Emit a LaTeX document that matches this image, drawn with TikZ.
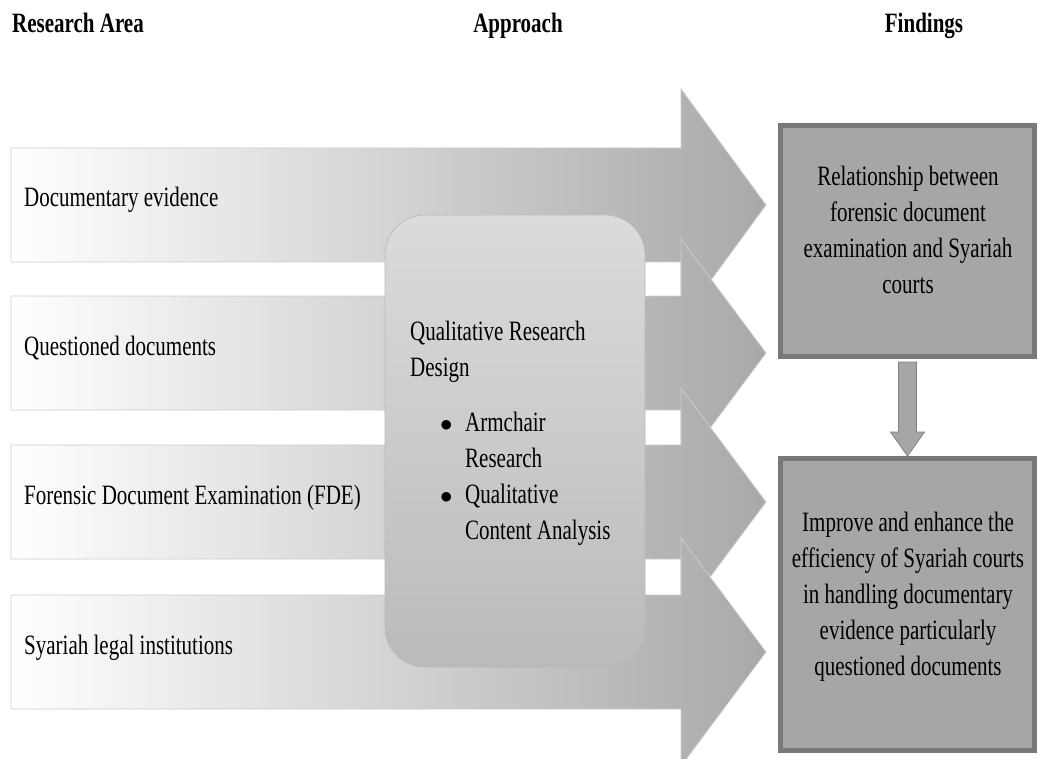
\documentclass[tikz,border=0pt]{standalone}
\usepackage{fontspec}
\setmainfont{Liberation Serif}[FakeStretch=0.75]
\usepackage{tikz}
\usetikzlibrary{calc,positioning}
\begin{document}
\begin{tikzpicture}[x=1pt,y=-1pt,every node/.style={font=\fontsize{28}{36}\selectfont,inner sep=0pt},
  head/.style={font=\fontsize{28}{36}\selectfont\bfseries,anchor=base},
  flow/.style={draw=gray!40,line width=0.8pt,left color=white,right color=gray!68},
  approach/.style={draw=gray!55,line width=0.6pt,rounded corners=40pt,top color=gray!28,bottom color=gray!54,minimum width=260pt,minimum height=452pt},
  finding/.style={draw=gray!105,line width=5pt,fill=gray!70,minimum width=254pt},
  downarr/.style={draw=gray,line width=0.8pt,fill=gray!70}]
\useasboundingbox (0,0) rectangle (1038,759);
\node[head,anchor=base west] (harea) at (12,33) {Research Area};
\node[head] (happr) at (518,33) {Approach};
\node[head] (hfind) at (924,33) {Findings};
\path[flow] (11,148) -- (681,148) -- (681,89) -- (766,205) -- (681,321) -- (681,262) -- (11,262) -- cycle;
\path[flow] (11,296) -- (681,296) -- (681,239) -- (766,353) -- (681,467) -- (681,410) -- (11,410) -- cycle;
\path[flow] (11,445) -- (681,445) -- (681,388) -- (766,502) -- (681,616) -- (681,559) -- (11,559) -- cycle;
\path[flow] (11,595) -- (681,595) -- (681,538) -- (766,652) -- (681,766) -- (681,709) -- (11,709) -- cycle;
\node[anchor=base west] (docev) at (24,207) {Documentary evidence};
\node[anchor=base west] (qdocs) at (24,355) {Questioned documents};
\node[anchor=base west] (fde) at (24,504) {Forensic Document Examination (FDE)};
\node[anchor=base west] (syariah) at (24,654) {Syariah legal institutions};
\node[approach] (appr) at (515,441) {};
\node[anchor=north west,align=left] (apprtext) at (410,321) {Qualitative Research\\
Design\\[19pt]
\hspace*{30pt}\makebox[25pt][l]{$\bullet$}Armchair\\
\hspace*{55pt}Research\\
\hspace*{30pt}\makebox[25pt][l]{$\bullet$}Qualitative\\
\hspace*{55pt}Content Analysis};
\node[finding,minimum height=231pt] (f1) at (907.5,241) {};
\node[align=center] (f1text) at (908,230) {Relationship between\\forensic document\\examination and Syariah\\courts};
\node[finding,minimum height=292pt] (f2) at (907.5,604.5) {};
\node[align=center] (f2text) at (908,597) {Improve and enhance the\\efficiency of Syariah courts\\in handling documentary\\evidence particularly\\questioned documents};
\draw[downarr] ($(f1.south)+(-9,3)$) -- ($(f1.south)+(9,3)$) -- ($(f2.north)+(9,-24)$) -- ($(f2.north)+(17,-24)$) -- (f2.north) -- ($(f2.north)+(-17,-24)$) -- ($(f2.north)+(-9,-24)$) -- cycle;
\end{tikzpicture}
\end{document}
